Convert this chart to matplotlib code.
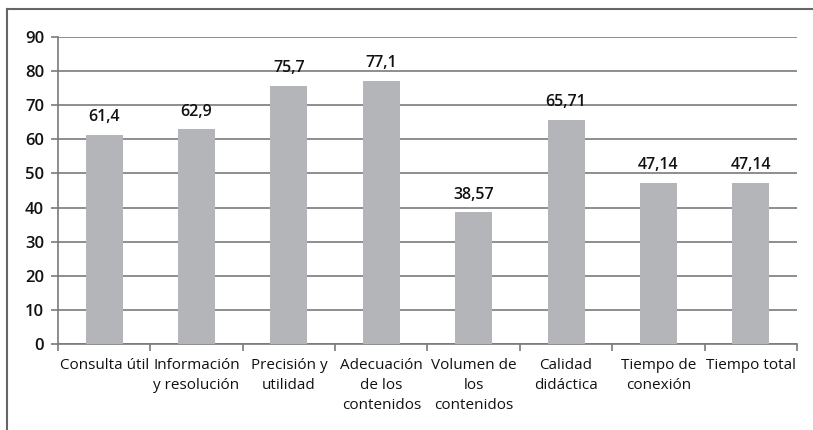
import matplotlib.pyplot as plt
import numpy as np
from matplotlib.lines import Line2D

plt.rcParams['font.family'] = ['Open Sans', 'DejaVu Sans']

# datos
categorias = ['Consulta útil', 'Información\ny resolución', 'Precisión y\nutilidad',
              'Adecuación\nde los\ncontenidos', 'Volumen de\nlos\ncontenidos',
              'Calidad\ndidáctica', 'Tiempo de\nconexión', 'Tiempo total']
valores = [61.4, 62.9, 75.7, 77.1, 38.57, 65.71, 47.14, 47.14]
etiquetas = ['61,4', '62,9', '75,7', '77,1', '38,57', '65,71', '47,14', '47,14']

fig = plt.figure(figsize=(8.13, 4.3), dpi=100)
ax = fig.add_axes([0.0713, 0.2, 0.909, 0.714])

x = np.arange(len(categorias))
ax.bar(x, valores, width=0.4, color='#b4b5b8', zorder=3)

for xi, v, t in zip(x, valores, etiquetas):
    ax.annotate(t, (xi, v), xytext=(0, 7), textcoords='offset points',
                ha='center', va='bottom', fontsize=11.5, fontweight='semibold', color='#111111')

ax.set_xlim(-0.5, len(categorias) - 0.5)
ax.set_ylim(0, 90)
ax.set_yticks(range(0, 91, 10))
ax.yaxis.grid(True, color='#7a7a7a', linewidth=1.2, zorder=0)

ax.set_xticks(x)
ax.set_xticklabels(categorias, fontsize=11, color='#111111', va='top', linespacing=1.45)
ax.tick_params(axis='x', which='major', length=0, pad=10)
ax.set_xticks(np.arange(-0.5, len(categorias)), minor=True)
ax.tick_params(axis='x', which='minor', length=5, color='#7a7a7a', width=1.2, direction='out')
ax.tick_params(axis='y', length=5, color='#7a7a7a', width=1.2, labelsize=12, labelcolor='#111111', pad=5)
for lbl in ax.get_yticklabels():
    lbl.set_fontweight('semibold')

for s in ['top', 'right']:
    ax.spines[s].set_visible(False)
for s in ['left', 'bottom']:
    ax.spines[s].set_color('#7a7a7a')
    ax.spines[s].set_linewidth(1.2)

# marco exterior
fig.add_artist(Line2D([0.009, 0.009], [0, 0.979], transform=fig.transFigure, color='#666666', linewidth=1.5))
fig.add_artist(Line2D([0.009, 1], [0.979, 0.979], transform=fig.transFigure, color='#666666', linewidth=1.5))

fig.savefig('out.png', dpi=100)
